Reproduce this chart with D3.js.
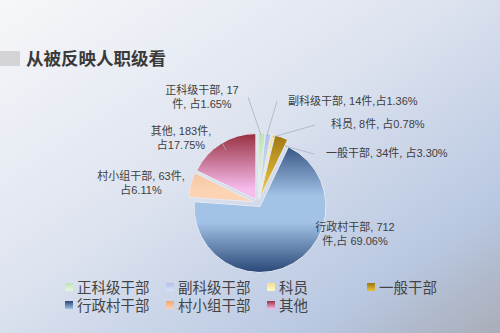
<!DOCTYPE html>
<html>
<head>
<meta charset="utf-8">
<script src="https://cdn.jsdelivr.net/npm/d3@7"></script>
<style>
  body { margin: 0; }
  svg { display: block; font-family: "Noto Sans CJK SC", "Noto Sans", sans-serif; }
  .label, .legend { font-family: "Liberation Sans", "Noto Sans CJK SC", sans-serif; }
</style>
</head>
<body>
<div id="chart"></div>
<script>
var categories = ["正科级干部", "副科级干部", "科员", "一般干部", "行政村干部", "村小组干部", "其他"];
var counts = [17, 14, 8, 34, 712, 63, 183];
var labelLines = [
    ["正科级干部, 17", "件, 占1.65%"],
    ["副科级干部, 14件,占1.36%"],
    ["科员, 8件, 占0.78%"],
    ["一般干部, 34件, 占3.30%"],
    ["行政村干部, 712", "件,占 69.06%"],
    ["村小组干部, 63件,", "占6.11%"],
    ["其他, 183件,", "占17.75%"]
];
// dark / light pairs for the gradients
var darkColors = ["#bfe2b6", "#b0c0ea", "#f2e08e", "#9c7410", "#2a4878", "#eea878", "#983040"];
var lightColors = ["#e6f7de", "#d8e2f8", "#fff7c8", "#e8c440", "#a2c2e6", "#fcd4b4", "#f6bcec"];

const w = 500;
const h = 333;
const cx = 258;
const cy = 203;
const radius = 66;
const explode = 4;

const svg = d3.select("#chart").append("svg")
    .attr("width", w)
    .attr("height", h);

const defs = svg.append("defs");

var bg = defs.append("linearGradient").attr("id", "bg")
    .attr("x1", 0).attr("y1", 0).attr("x2", 1).attr("y2", 1);
bg.append("stop").attr("offset", "0%").attr("stop-color", "#f6f7f9");
bg.append("stop").attr("offset", "45%").attr("stop-color", "#dde3ef");
bg.append("stop").attr("offset", "80%").attr("stop-color", "#b9c8e2");
bg.append("stop").attr("offset", "100%").attr("stop-color", "#a9adb8");

svg.append("rect").attr("width", w).attr("height", h).attr("fill", "url(#bg)");

categories.forEach((c, i) => {
    // slices are drawn in a group centred on the pie, so the gradient spans -r..r
    var g = defs.append("linearGradient").attr("id", "slice" + i)
        .attr("gradientUnits", "userSpaceOnUse")
        .attr("x1", 0).attr("x2", 0)
        .attr("y1", -radius).attr("y2", radius);
    g.append("stop").attr("offset", "0%").attr("stop-color", darkColors[i]);
    g.append("stop").attr("offset", "42%").attr("stop-color", lightColors[i]);
    g.append("stop").attr("offset", "62%").attr("stop-color", lightColors[i]);
    g.append("stop").attr("offset", "100%").attr("stop-color", darkColors[i]);

    var s = defs.append("linearGradient").attr("id", "swatch" + i)
        .attr("x1", 0).attr("x2", 0).attr("y1", 0).attr("y2", 1);
    s.append("stop").attr("offset", "0%").attr("stop-color", darkColors[i]);
    s.append("stop").attr("offset", "100%").attr("stop-color", lightColors[i]);
});

// title
svg.append("rect").attr("x", 0).attr("y", 51).attr("width", 20).attr("height", 15).attr("fill", "#d4d4d6");
svg.append("text")
    .attr("x", 26).attr("y", 65)
    .style("font-size", "17.5px").style("font-weight", "bold")
    .attr("fill", "#3a3a3a")
    .text("从被反映人职级看");

const pie = d3.pie().sort(null).value((d) => d);
const arcs = pie(counts);
const arc = d3.arc().innerRadius(0).outerRadius(radius);

svg.append("g")
    .attr("transform", "translate(" + cx + "," + cy + ")")
    .selectAll("path")
    .data(arcs)
    .enter()
    .append("path")
    .attr("transform", (d) => {
        var a = (d.startAngle + d.endAngle) / 2;
        return "translate(" + (Math.sin(a) * explode) + "," + (-Math.cos(a) * explode) + ")";
    })
    .attr("d", arc)
    .attr("fill", (d, i) => "url(#slice" + i + ")")
    .attr("stroke", "#e6eaf2")
    .attr("stroke-width", 1);

// leader lines
var leaders = [
    [[248, 97], [261, 135]],
    [[277, 101], [267, 135]],
    [[315, 125], [273, 137]],
    [[314, 154], [285, 146]],
    null,
    null,
    [[222, 143], [226, 150]]
];
svg.selectAll("polyline.leader")
    .data(leaders.filter((d) => d))
    .enter()
    .append("polyline")
    .attr("class", "leader")
    .attr("points", (d) => d.map((p) => p.join(",")).join(" "))
    .attr("fill", "none")
    .attr("stroke", "#aab2c2")
    .attr("stroke-width", 0.8);

// data labels, one text element per line
var labelPos = [[202, 94, "middle"], [288, 105, "start"], [331, 128, "start"], [326, 157, "start"],
    [355, 231, "middle"], [141, 180, "middle"], [181, 135, "middle"]];
categories.forEach((c, i) => {
    labelLines[i].forEach((line, j) => {
        svg.append("text")
            .attr("class", "label")
            .attr("x", labelPos[i][0])
            .attr("y", labelPos[i][1] + j * 13.5)
            .attr("text-anchor", labelPos[i][2])
            .attr("fill", "#404040")
            .style("font-size", "11px")
            .text(line);
    });
});

// legend
var legendX = [65, 166, 267, 367];
var legendY = [287, 305];
categories.forEach((c, i) => {
    var col = i < 4 ? i : i - 4;
    var row = i < 4 ? 0 : 1;
    var g = svg.append("g")
        .attr("transform", "translate(" + legendX[col] + "," + legendY[row] + ")");
    g.append("rect")
        .attr("x", 0).attr("y", -4)
        .attr("width", 8).attr("height", 8)
        .attr("fill", "url(#swatch" + i + ")");
    g.append("text")
        .attr("class", "legend")
        .attr("x", 12).attr("y", 5.5)
        .attr("fill", "#444")
        .style("font-size", "14.5px")
        .text(c);
});
</script>
</body>
</html>
